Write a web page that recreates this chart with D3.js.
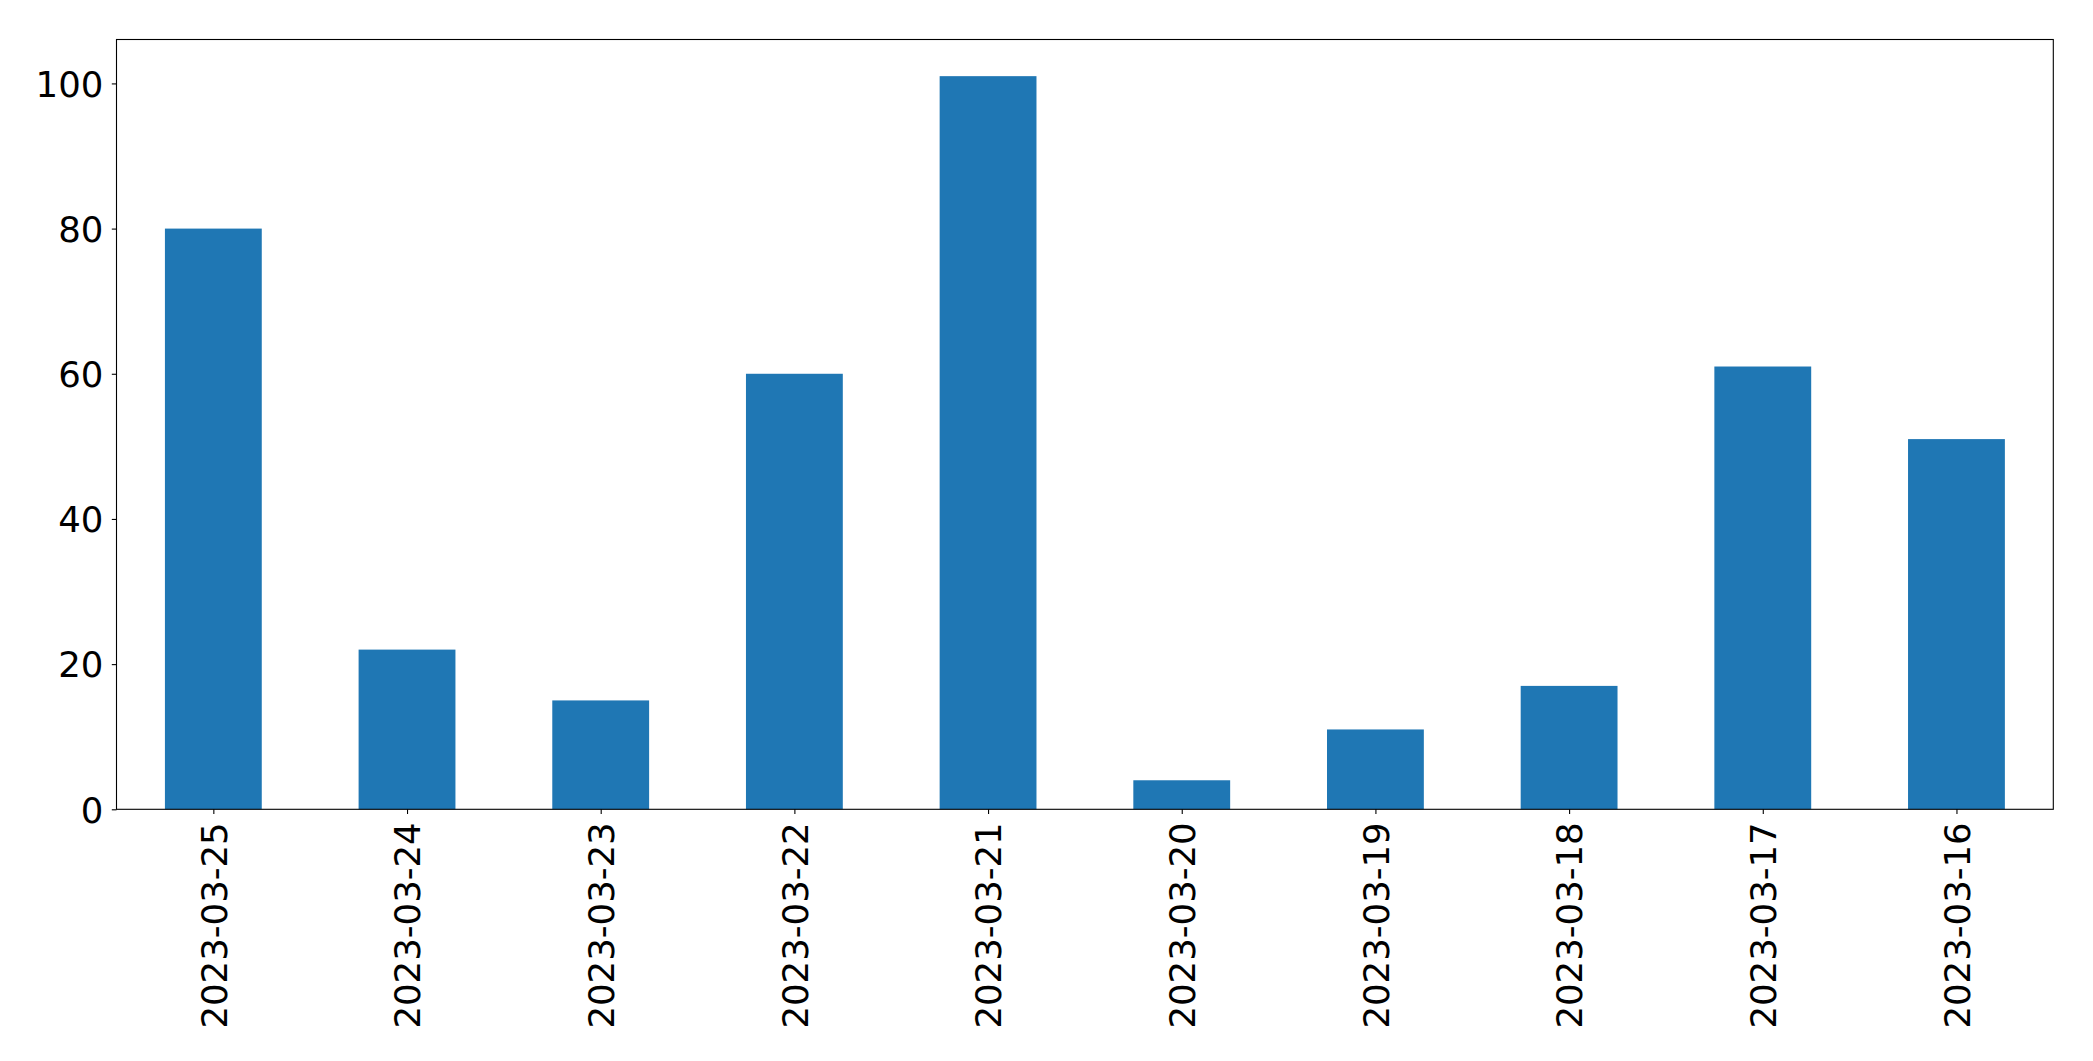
<!DOCTYPE html>
<html><head><meta charset="utf-8">
<script src="https://cdn.jsdelivr.net/npm/d3@7"></script>
<style>body{margin:0;background:#fff}svg{display:block}text{font-family:"DejaVu Sans",sans-serif}</style>
</head><body><svg id="c" width="2093" height="1061"></svg>
<script>
const categories = ["2023-03-25","2023-03-24","2023-03-23","2023-03-22","2023-03-21","2023-03-20","2023-03-19","2023-03-18","2023-03-17","2023-03-16"];
const values = [80, 22, 15, 60, 101, 4, 11, 17, 61, 51];
const yTicks = [0, 20, 40, 60, 80, 100];

const L = 116.5, R = 2053.3, T = 39.5, B = 809.3;
const fs = 35.5;
const svg = d3.select("#c");
const x = d3.scaleLinear().domain([-0.5, categories.length - 0.5]).range([L, R]);
const y = d3.scaleLinear().domain([0, d3.max(values) * 1.05]).range([B, T]);
const bw = x(0.25) - x(-0.25);

svg.append("g").selectAll("rect").data(values).join("rect")
  .attr("x", (d, i) => x(i) - bw / 2).attr("width", bw)
  .attr("y", d => y(d)).attr("height", d => B - y(d))
  .attr("fill", "#1f77b4");

const yAxis = svg.append("g").attr("transform", `translate(${L},0)`)
  .call(d3.axisLeft(y).tickValues(yTicks).tickSize(4.7).tickPadding(8.5));
yAxis.selectAll("text").attr("font-size", fs).attr("font-family", "DejaVu Sans").attr("fill", "#000").attr("dy", "0.36em");

const xAxis = svg.append("g").attr("transform", `translate(0,${B})`)
  .call(d3.axisBottom(x).tickValues(d3.range(categories.length)).tickFormat(i => categories[i]).tickSize(4.7).tickPadding(0));
xAxis.selectAll("text").attr("font-size", fs).attr("font-family", "DejaVu Sans").attr("fill", "#000")
  .attr("transform", "rotate(-90)").attr("text-anchor", "end").attr("x", -13).attr("y", 0).attr("dy", "0.36em");
svg.selectAll(".domain").remove();
svg.selectAll(".tick line").attr("stroke", "#000").attr("stroke-width", 1.1);

svg.append("rect").attr("x", L).attr("y", T).attr("width", R - L).attr("height", B - T)
  .attr("fill", "none").attr("stroke", "#000").attr("stroke-width", 1.1);
</script></body></html>
